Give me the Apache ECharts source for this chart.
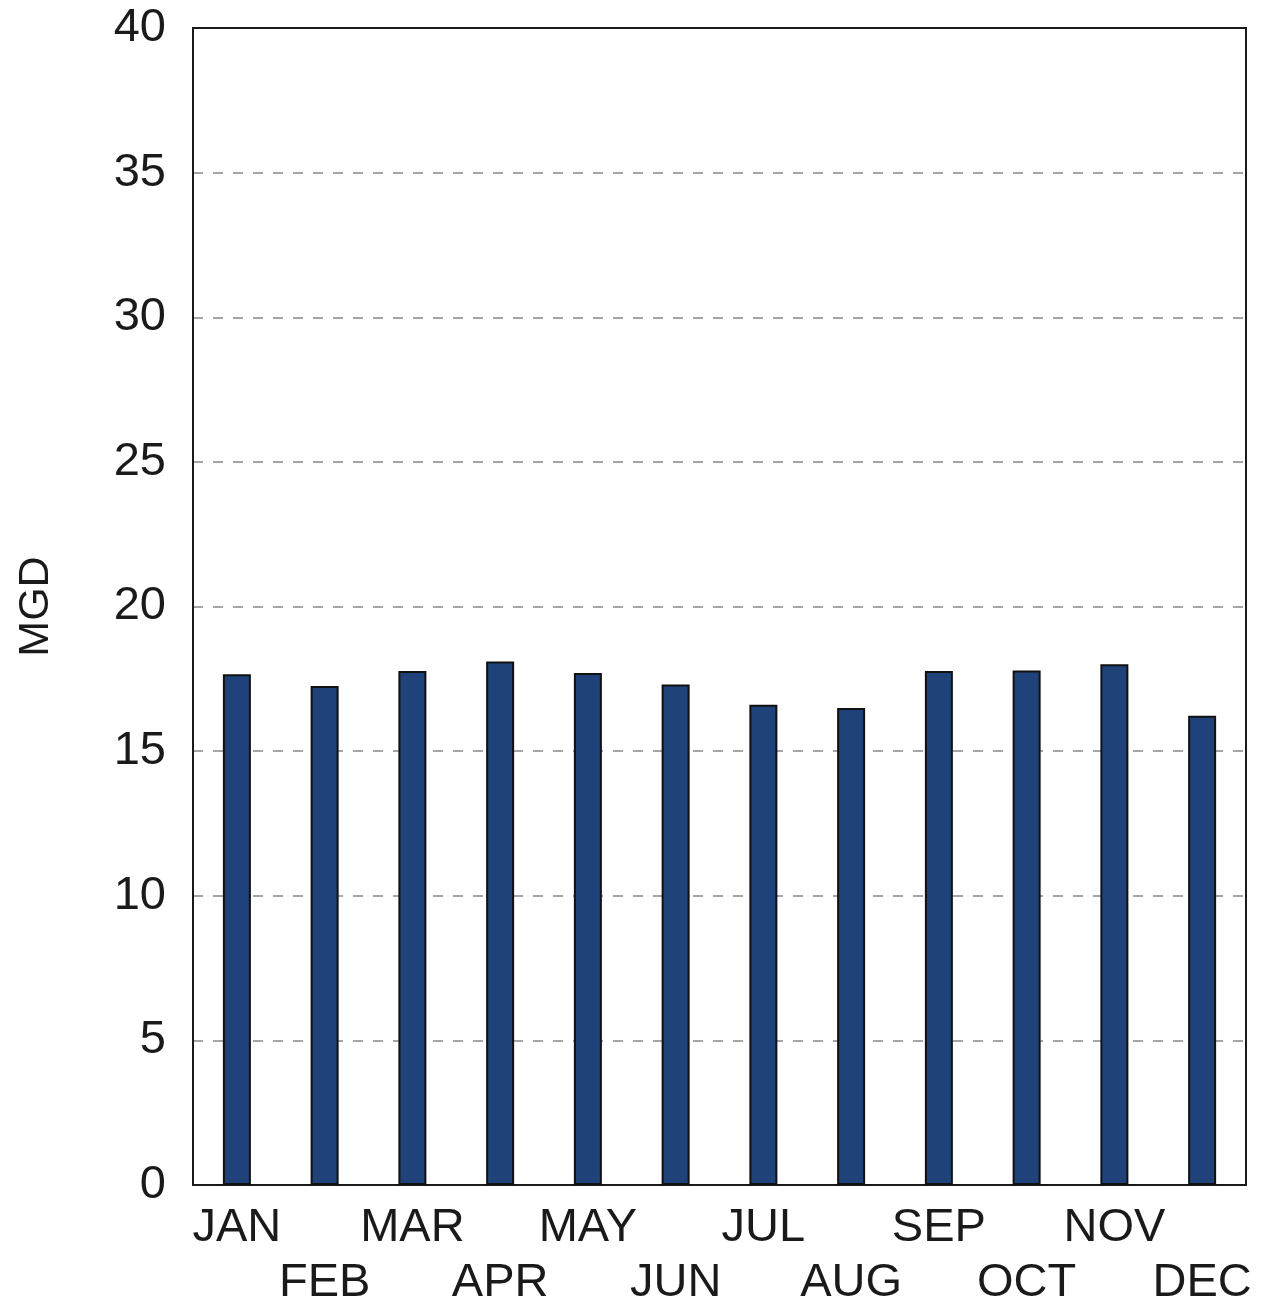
<!DOCTYPE html>
<html><head><meta charset="utf-8">
<script src="https://cdn.jsdelivr.net/npm/echarts@6/dist/echarts.min.js"></script>
<style>html,body{margin:0;padding:0;background:#fff}#c{width:1266px;height:1311px}</style>
</head><body><div id="c"></div>
<script>
const months = ['JAN','FEB','MAR','APR','MAY','JUN','JUL','AUG','SEP','OCT','NOV','DEC'];
const mgd = [17.66,17.25,17.77,18.10,17.70,17.30,16.60,16.49,17.77,17.79,18.00,16.22];
const yTicks = [0,5,10,15,20,25,30,35,40];

const chart = echarts.init(document.getElementById('c'), null, {renderer:'canvas'});
const font = '"Liberation Sans", Arial, sans-serif';
chart.setOption({
  backgroundColor:'#ffffff',
  animation:false,
  grid:{left:193,right:20,top:28,bottom:125,show:true,borderColor:'#1a1a1a',borderWidth:2,backgroundColor:'transparent'},
  xAxis:[{type:'category',data:months,
    axisLine:{lineStyle:{color:'#1a1a1a',width:2}},
    axisTick:{show:false},
    axisLabel:{interval:0,color:'#1a1a1a',fontFamily:font,fontSize:47,lineHeight:55,margin:16,
      formatter:(v,i)=> i%2 ? '\n'+v : v}
  },{type:'category',data:months,position:'top',
    axisLine:{show:true,lineStyle:{color:'#1a1a1a',width:2}},
    axisTick:{show:false},axisLabel:{show:false},z:10}],
  yAxis:{type:'value',min:yTicks[0],max:yTicks[yTicks.length-1],interval:5,
    name:'MGD',nameLocation:'middle',nameGap:135,nameRotate:90,
    nameTextStyle:{color:'#1a1a1a',fontFamily:font,fontSize:43},
    axisLine:{show:true,lineStyle:{color:'#1a1a1a',width:2}},
    axisTick:{show:false},
    axisLabel:{color:'#1a1a1a',fontFamily:font,fontSize:47,margin:27},
    splitLine:{show:true,lineStyle:{color:'#888',type:[10,10],width:1.5}}
  },
  series:[{type:'bar',data:mgd,barWidth:28,xAxisIndex:0,
    itemStyle:{color:'#1e4279',borderColor:'#111',borderWidth:2}}]
});
</script></body></html>
